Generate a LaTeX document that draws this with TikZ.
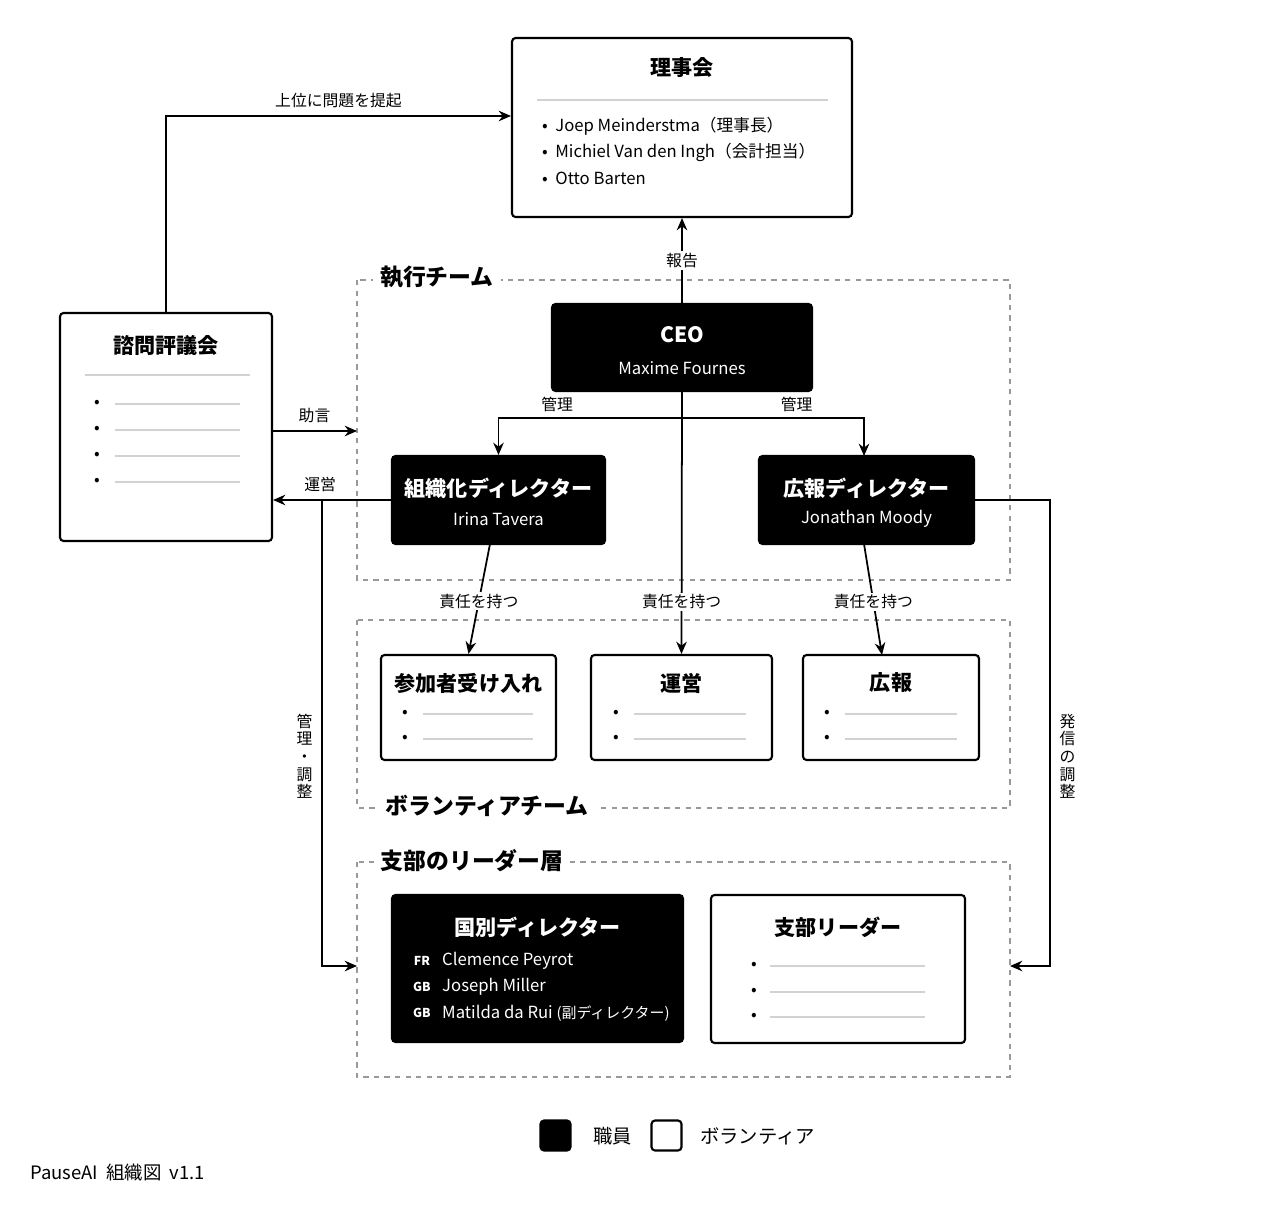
\documentclass[tikz,border=0pt]{standalone}
\usepackage{fontspec}
\setmainfont{Noto Sans CJK JP}
\usetikzlibrary{arrows.meta}

\tikzset{
  wbox/.style={draw, line width=1.2pt, rounded corners=2pt, fill=white},
  bbox/.style={draw, line width=1.2pt, rounded corners=2pt, fill=black},
  grp/.style={draw=gray!80, dashed, line width=0.6pt},
  grplabel/.style={fill=white, font=\fontsize{13}{15}\selectfont\bfseries, inner xsep=4pt},
  ttl/.style={font=\fontsize{12}{14}\selectfont\bfseries},
  txt/.style={font=\fontsize{9.5}{11}\selectfont},
  lbl/.style={font=\fontsize{9}{10}\selectfont, fill=white, inner sep=1pt},
  conn/.style={line width=1pt, -{Stealth[length=7pt,width=6pt]}},
  bline/.style={draw=gray!35, line width=0.6pt}
}

\begin{document}
\begin{tikzpicture}[x=0.02cm, y=-0.02cm]
  \useasboundingbox (0,0) rectangle (1287,1222);

  % groups
  \draw[grp] (357,280) rectangle (1010,580);
  \draw[grp] (357,620) rectangle (1010,808);
  \draw[grp] (357,862) rectangle (1010,1077);
  \node[grplabel] (exec_label) at (437,277) {執行チーム};
  \node[grplabel] (vol_label) at (487,806) {ボランティアチーム};
  \node[grplabel] (chap_label) at (472,861) {支部のリーダー層};

  % board
  \node[wbox, minimum width=6.8cm, minimum height=3.58cm] (board) at (682,127.5) {};
  \node[ttl] at (682,68) {理事会};
  \draw[bline] (537,100) -- (828,100);
  \node[txt, anchor=west] at (536,126) {\textbullet\ \ Joep Meinderstma（理事長）};
  \node[txt, anchor=west] at (536,152) {\textbullet\ \ Michiel Van den Ingh（会計担当）};
  \node[txt, anchor=west] at (536,178) {\textbullet\ \ Otto Barten};

  % advisory
  \node[wbox, minimum width=4.24cm, minimum height=4.56cm] (adv) at (166,427) {};
  \node[ttl] at (166,346) {諮問評議会};
  \draw[bline] (85,375) -- (250,375);
  \foreach \yy in {404,430,456,482} {
    \node[txt] at (97,\yy) {\textbullet};
    \draw[bline] (115,\yy) -- (240,\yy);
  }

  % executives
  \node[bbox, minimum width=5.2cm, minimum height=1.74cm] (ceo) at (682,347.5) {};
  \node[ttl, text=white] at (682,335) {CEO};
  \node[txt, text=white] at (682,368) {Maxime Fournes};
  \node[bbox, minimum width=4.26cm, minimum height=1.76cm] (org) at (498.5,500) {};
  \node[ttl, text=white] at (498.5,488) {組織化ディレクター};
  \node[txt, text=white] at (498.5,519) {Irina Tavera};
  \node[bbox, minimum width=4.3cm, minimum height=1.76cm] (pr) at (866.5,500) {};
  \node[ttl, text=white] at (866.5,488) {広報ディレクター};
  \node[txt, text=white] at (866.5,519) {Jonathan Moody};

  % volunteer teams
  \node[wbox, minimum width=3.5cm, minimum height=2.1cm] (intake) at (468.5,707.5) {};
  \node[ttl] at (468.5,683) {参加者受け入れ};
  \node[wbox, minimum width=3.62cm, minimum height=2.1cm] (ops) at (681.5,707.5) {};
  \node[ttl] at (681.5,683) {運営};
  \node[wbox, minimum width=3.52cm, minimum height=2.1cm] (comm) at (891,707.5) {};
  \node[ttl] at (891,683) {広報};
  \foreach \xa/\xb in {405/533, 616/746, 827/957} {
    \foreach \yy in {714,739} {
      \node[txt] at (\xa,\yy) {\textbullet};
      \draw[bline] (\xa+18,\yy) -- (\xb,\yy);
    }
  }

  % chapters
  \node[bbox, minimum width=5.82cm, minimum height=2.94cm] (natl) at (537.5,968.5) {};
  \node[ttl, text=white] at (537.5,927) {国別ディレクター};
  \foreach \yy/\cc/\nn in {961/FR/Clemence Peyrot, 987/GB/Joseph Miller, 1013/GB/{Matilda da Rui {\fontsize{8.5}{10}\selectfont(副ディレクター)}}} {
    \node[font=\fontsize{7}{8}\selectfont\bfseries, text=white] at (422,\yy) {\cc};
    \node[txt, text=white, anchor=west] at (436,\yy) {\nn};
  }
  \node[wbox, minimum width=5.08cm, minimum height=2.96cm] (chap) at (838,969) {};
  \node[ttl] at (838,927) {支部リーダー};
  \foreach \yy in {966,992,1017} {
    \node[txt] at (754,\yy) {\textbullet};
    \draw[bline] (770,\yy) -- (925,\yy);
  }

  % connectors
  \coordinate (adv_up) at (166,116);
  \draw[conn] (adv.north) -- (adv_up) -- node[lbl, above=3pt, fill=none] {上位に問題を提起} (adv_up -| board.west);
  \draw[conn] (ceo.south) ++(0,0) (ceo.north) -- node[lbl, pos=0.5] {報告} (board.south);
  \coordinate (adv_r) at (272,431);
  \coordinate (exec_l) at (357,431);
  \draw[conn] (adv_r) -- node[lbl, above=3pt, fill=none] {助言} (exec_l);
  \coordinate (split) at (682,418);
  \draw[conn] (ceo.south) -- (split) -- node[lbl, above=2pt, fill=none, pos=0.68] {管理} (498.5,418) -- (org.north);
  \draw[conn] (split) -- node[lbl, above=2pt, fill=none, pos=0.63] {管理} (864,418) -- (864,456);
  \draw[conn] (org.west) -- node[lbl, above=3pt, fill=none, pos=0.6] {運営} (org.west -| adv.east);
  \coordinate (ops_l) at (322,500);
  \coordinate (ops_d) at (322,966);
  \draw[conn] (ops_l) -- node[lbl, pos=0.55, left=4pt, fill=none, align=center] {管\\理\\・\\調\\整} (ops_d) -- (357,966);
  \coordinate (pr_r) at (1050,500);
  \coordinate (pr_d) at (1050,966);
  \draw[conn] (pr.east) -- (pr_r) -- node[lbl, pos=0.55, right=4pt, fill=none, align=center] {発\\信\\の\\調\\整} (pr_d) -- (1010,966);
  \draw[conn] (490,544) -- node[lbl, pos=0.52] {責任を持つ} (intake.north);
  \draw[conn] (ceo.south) -- node[lbl, pos=0.8] {責任を持つ} (ops.north);
  \draw[conn] (864,544) -- node[lbl, pos=0.52] {責任を持つ} (882,655);

  % legend
  \node[bbox, minimum size=0.6cm] (leg_staff) at (555.5,1135.5) {};
  \node[font=\fontsize{11}{13}\selectfont, anchor=west] at (587,1136) {職員};
  \node[wbox, minimum size=0.6cm] (leg_vol) at (666.5,1135.5) {};
  \node[font=\fontsize{11}{13}\selectfont, anchor=west] at (694,1136) {ボランティア};
  \node[font=\fontsize{10.5}{12}\selectfont, anchor=west] (footer) at (24,1173) {PauseAI\ \ 組織図\ \ v1.1};
\end{tikzpicture}
\end{document}
